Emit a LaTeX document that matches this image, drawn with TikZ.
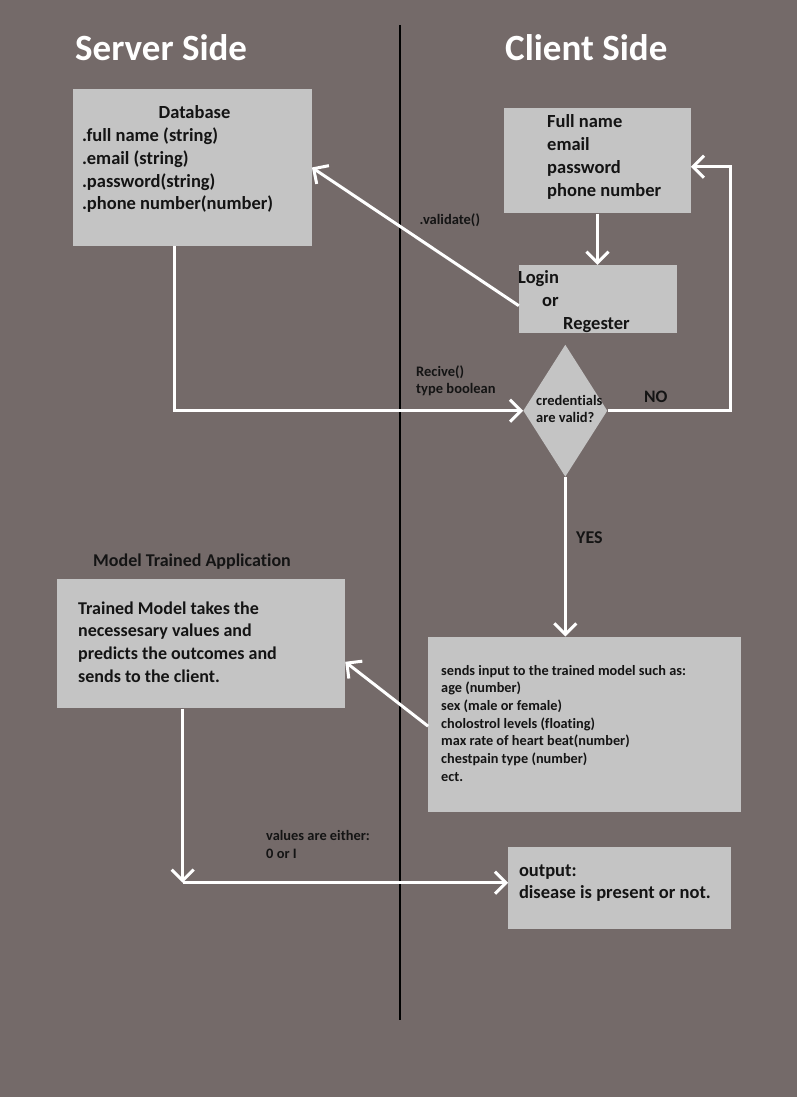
\documentclass[tikz,border=0pt]{standalone}
\usepackage{fontspec}
\setmainfont{Carlito}[Ligatures=NoCommon]
\usetikzlibrary{arrows.meta,shapes.geometric}

\definecolor{bg}{RGB}{116,106,105}
\definecolor{boxfill}{RGB}{196,196,196}
\definecolor{ink}{RGB}{20,20,20}

\tikzset{
  panel/.style={rectangle, fill=boxfill, draw=none, inner sep=0pt},
  decision/.style={diamond, fill=boxfill, draw=none, inner sep=0pt},
  txt/.style={anchor=north west, inner sep=0pt, align=left, text=ink},
  lbl/.style={anchor=base west, inner sep=0pt, text=ink},
  heading/.style={anchor=base west, inner sep=0pt, text=white,
    font=\fontsize{37}{44}\selectfont\bfseries},
  flow/.style={draw=white, line width=3pt,
    -{Straight Barb[length=11pt,width=22pt]}},
  divider/.style={draw=black, line width=2pt}
}

\begin{document}
\begin{tikzpicture}[x=1pt, y=-1pt]
  % canvas
  \fill[bg] (0,0) rectangle (797,1097);
  \useasboundingbox (0,0) rectangle (797,1097);

  % column divider
  \coordinate (divtop) at (400,25);
  \coordinate (divbot) at (400,1020);
  \draw[divider] (divtop) -- (divbot);

  % headings
  \node[heading] (server) at (75,60.7) {Server Side};
  \node[heading] (client) at (505,60.7) {Client Side};

  % server side: database
  \node[panel, minimum width=238.4pt, minimum height=156.4pt] (db) at (192.5,167.5) {};
  \node[anchor=base, inner sep=0pt, text=ink, font=\fontsize{18.5}{22.7}\selectfont\bfseries]
    (dbtitle) at (194.5,118) {Database};
  \node[txt, font=\fontsize{18.5}{22.7}\selectfont\bfseries] (dbfields) at (81.8,125.6)
    {\strut.full name (string)\\.email (string)\\.password(string)\\.phone number(number)};

  % client side: form
  \node[panel, minimum width=186.4pt, minimum height=105pt] (form) at (597.5,160.8) {};
  \node[txt, font=\fontsize{18.5}{22.9}\selectfont\bfseries] (formtext) at (547,111.3)
    {\strut Full name\\email\\password\\phone number};

  % login / register
  \node[panel, minimum width=157.7pt, minimum height=68pt] (login) at (597.85,299) {};
  \node[txt, font=\fontsize{18.5}{23}\selectfont\bfseries] (logintext) at (518,267.2)
    {\strut Login\\\hspace*{24pt}or\\\hspace*{45pt}Regester};

  % decision
  \node[decision, minimum width=84pt, minimum height=132pt] (dia) at (565.3,410.7) {};
  \node[txt, font=\fontsize{14.5}{17.3}\selectfont\bfseries] (diatext) at (536,392.9)
    {\strut credentials\\are valid?};

  % model (server side)
  \node[lbl, font=\fontsize{18}{22}\selectfont\bfseries] (mta) at (93,566)
    {Model Trained Application};
  \node[panel, minimum width=288pt, minimum height=129pt] (model) at (201,643.8) {};
  \node[txt, font=\fontsize{18}{22.6}\selectfont\bfseries] (modeltext) at (78,598.2)
    {\strut Trained Model takes the\\necessesary values and\\predicts the outcomes and\\sends to the client.};

  % input to model (client side)
  \node[panel, minimum width=312.7pt, minimum height=175pt] (input) at (584.65,724.2) {};
  \node[txt, font=\fontsize{14.3}{17.67}\selectfont\bfseries] (inputtext) at (441,662.6)
    {\strut sends input to the trained model such as:\\age (number)\\sex (male or female)\\cholostrol levels (floating)\\max rate of heart beat(number)\\chestpain type (number)\\ect.};

  % output
  \node[panel, minimum width=222.7pt, minimum height=82.6pt] (output) at (619.65,888) {};
  \node[txt, font=\fontsize{18.5}{22.3}\selectfont\bfseries] (outputtext) at (518.8,860.4)
    {\strut output:\\disease is present or not.};

  % connector labels
  \node[lbl, font=\fontsize{14.5}{17.3}\selectfont\bfseries] (validate) at (419.5,224) {.validate()};
  \node[txt, font=\fontsize{14.5}{17.3}\selectfont\bfseries] (recive) at (416,363.9)
    {\strut Recive()\\type boolean};
  \node[lbl, font=\fontsize{17.5}{21}\selectfont\bfseries] (no) at (644,402.7) {NO};
  \node[lbl, font=\fontsize{18}{22}\selectfont\bfseries] (yes) at (576,543.3) {YES};
  \node[txt, font=\fontsize{14.4}{17.6}\selectfont\bfseries] (values) at (266,828.4)
    {\strut values are either:\\0 or I};

  % connectors
  \draw[flow] (form.south) -- (form.south |- login.north);
  \draw[flow] ([yshift=-6.7pt]login.west) -- (db.east);
  \draw[flow] ([xshift=-18.5pt]db.south) |- (dia.west);
  \coordinate (noturn) at (730,166.7);
  \draw[flow] (dia.east) -| (noturn) -- ([yshift=-5.9pt]form.east);
  \draw[flow] (dia.south) -- (dia.south |- input.north);
  \draw[flow] ([yshift=-2pt]input.west) -- ([yshift=-18pt]model.east);
  \coordinate (corner) at (182.7,882.7);
  \draw[flow] ([xshift=-18.3pt]model.south) -- (corner);
  \draw[flow] (corner) -- ([yshift=5.3pt]output.west);
\end{tikzpicture}
\end{document}
